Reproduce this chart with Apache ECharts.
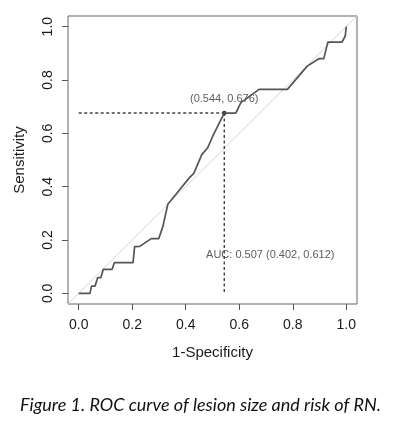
<!DOCTYPE html>
<html>
<head>
<meta charset="utf-8">
<script src="https://cdn.jsdelivr.net/npm/echarts@6/dist/echarts.min.js"></script>
<style>
html,body{margin:0;padding:0;background:#fff;}
#chart{width:401px;height:423px;}
</style>
</head>
<body>
<div id="chart"></div>
<script>
// ROC curve points (1-specificity, sensitivity)
var fpr = [0, 0.042, 0.048, 0.061, 0.071, 0.083, 0.092, 0.125, 0.133, 0.203, 0.209, 0.228, 0.271, 0.299, 0.315, 0.333, 0.358, 0.414, 0.430, 0.460, 0.482, 0.504, 0.544, 0.587, 0.606, 0.674, 0.780, 0.854, 0.897, 0.916, 0.931, 0.984, 0.996, 1.0];
var tpr = [0, 0, 0.027, 0.027, 0.059, 0.059, 0.090, 0.090, 0.115, 0.115, 0.175, 0.176, 0.205, 0.205, 0.252, 0.334, 0.365, 0.434, 0.450, 0.520, 0.546, 0.596, 0.676, 0.676, 0.715, 0.765, 0.765, 0.852, 0.880, 0.880, 0.942, 0.942, 0.965, 1.0];
var tickValues = [0, 0.2, 0.4, 0.6, 0.8, 1.0];
var bestPoint = [0.544, 0.676];
var bestText = "(0.544, 0.676)";
var aucText = "AUC: 0.507 (0.402, 0.612)";
var aucPos = [0.476, 0.143];
var axisMin = -0.04, axisMax = 1.04;
var caption = "Figure 1. ROC curve of lesion size and risk of RN.";

var roc = [];
for (var i = 0; i < fpr.length; i++) roc.push([fpr[i], tpr[i]]);

var font = "'Liberation Sans', Arial, sans-serif";
var myChart = echarts.init(document.getElementById("chart"));

var option = {
  animation: false,
  backgroundColor: "#fff",
  title: {
    text: caption,
    left: "center",
    top: 391,
    textStyle: {fontFamily: "Lato", fontStyle: "italic", fontWeight: "normal", fontSize: 18, color: "#111"}
  },
  grid: {left: 68, right: 44, top: 16, bottom: 119, show: true, borderColor: "#666", borderWidth: 1},
  xAxis: {
    type: "value", min: axisMin, max: axisMax,
    name: "1-Specificity", nameLocation: "middle", nameGap: 41,
    nameTextStyle: {fontFamily: font, fontSize: 15, color: "#1a1a1a"},
    axisLine: {show: false, onZero: false},
    splitLine: {show: false},
    axisTick: {show: true, length: 6, lineStyle: {color: "#555"}, customValues: tickValues},
    axisLabel: {fontFamily: font, fontSize: 14, color: "#1a1a1a", margin: 14, customValues: tickValues,
      formatter: function (v) { return v.toFixed(1); }}
  },
  yAxis: {
    type: "value", min: axisMin, max: axisMax,
    name: "Sensitivity", nameLocation: "middle", nameGap: 41,
    nameTextStyle: {fontFamily: font, fontSize: 15, color: "#1a1a1a"},
    axisLine: {show: false, onZero: false},
    splitLine: {show: false},
    axisTick: {show: true, length: 6, lineStyle: {color: "#555"}, customValues: tickValues},
    axisLabel: {fontFamily: font, fontSize: 14, color: "#1a1a1a", margin: 13, rotate: 90, customValues: tickValues,
      formatter: function (v) { return v.toFixed(1); }}
  },
  series: [
    {
      name: "chance", type: "line", symbol: "none", silent: true,
      data: [[axisMin, axisMin], [axisMax, axisMax]],
      lineStyle: {color: "#d4d4d4", width: 1}
    },
    {
      name: "ROC", type: "line", symbol: "none",
      data: roc,
      lineStyle: {color: "#555", width: 1.7}
    },
    {
      name: "best-h", type: "line", symbol: "none",
      data: [[0, bestPoint[1]], bestPoint],
      lineStyle: {color: "#444", width: 1.4, type: [3, 2.5]}
    },
    {
      name: "best-v", type: "line", symbol: "none",
      data: [bestPoint, [bestPoint[0], 0]],
      lineStyle: {color: "#444", width: 1.4, type: [3, 2.5]}
    },
    {
      name: "best", type: "scatter", symbolSize: 4.5,
      data: [bestPoint],
      itemStyle: {color: "#000"},
      label: {show: true, position: "top", distance: 6, formatter: bestText,
        fontFamily: font, fontSize: 11, color: "#333"}
    },
    {
      name: "auc", type: "scatter", symbolSize: 0,
      data: [aucPos],
      label: {show: true, position: "right", distance: 0, formatter: aucText,
        fontFamily: font, fontSize: 11, color: "#333"}
    }
  ]
};
myChart.setOption(option);
</script>
</body>
</html>
